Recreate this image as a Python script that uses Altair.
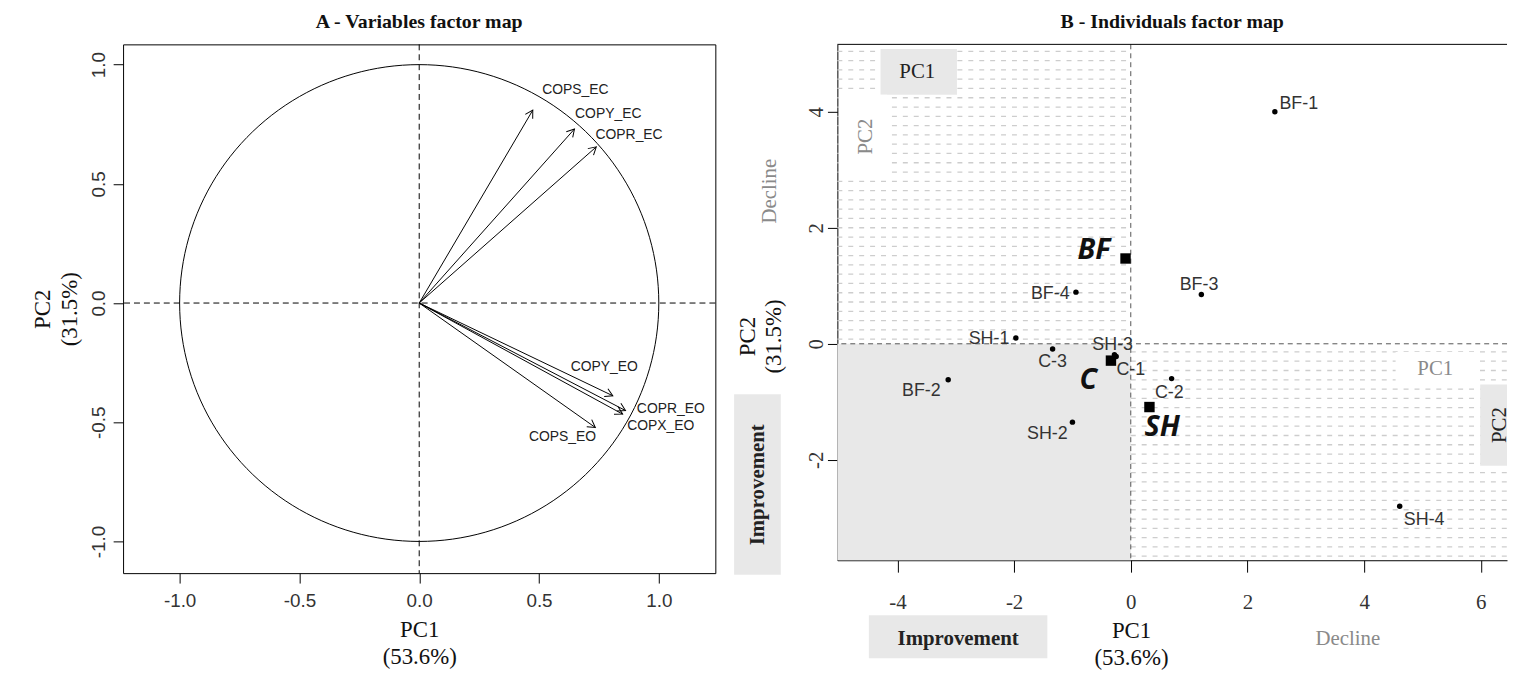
import altair as alt
import pandas as pd

SERIF = "Liberation Serif"
SANS = "Liberation Sans"
MINUS = "\u2212"

# ---------------- Panel A : variables ----------------
var_names = ["COPS_EC", "COPY_EC", "COPR_EC", "COPY_EO", "COPR_EO", "COPX_EO", "COPS_EO"]
var_pc1 = [0.474, 0.648, 0.739, 0.808, 0.861, 0.849, 0.735]
var_pc2 = [0.809, 0.730, 0.655, -0.389, -0.451, -0.466, -0.522]
var_lab_x = [0.652, 0.789, 0.876, 0.772, 1.050, 1.008, 0.598]
var_lab_y = [0.892, 0.792, 0.705, -0.268, -0.443, -0.518, -0.563]

A_X = [-1.236, 1.236]
A_Y = [-1.133, 1.085]
A_TICKS = [-1.0, -0.5, 0.0, 0.5, 1.0]

# ---------------- Panel B : individuals ----------------
ind_names = ["BF-1", "BF-2", "BF-3", "BF-4", "C-1", "C-2", "C-3", "SH-1", "SH-2", "SH-3", "SH-4"]
ind_pc1 = [2.47, -3.13, 1.21, -0.94, -0.25, 0.70, -1.34, -1.97, -1.00, -0.28, 4.61]
ind_pc2 = [4.00, -0.62, 0.85, 0.89, -0.22, -0.60, -0.09, 0.10, -1.35, -0.19, -2.80]
ind_lab_x = [2.88, -3.59, 1.17, -1.38, 0.00, 0.66, -1.34, -2.43, -1.43, -0.31, 5.03]
ind_lab_y = [4.14, -0.82, 1.01, 0.85, -0.46, -0.84, -0.31, 0.09, -1.56, -0.02, -3.04]

grp_names = ["BF", "C", "SH"]
grp_pc1 = [-0.09, -0.34, 0.32]
grp_pc2 = [1.47, -0.29, -1.09]
grp_lab_x = [-0.63, -0.73, 0.54]
grp_lab_y = [1.61, -0.62, -1.44]

B_X = [-5.03, 6.45]
B_Y = [-3.73, 5.16]
B_XTICKS = [-4, -2, 0, 2, 4, 6]
B_YTICKS = [-2, 0, 2, 4]

# annotation boxes (inside the plot): x1, x2, y1, y2, fill
box_x1 = [-4.29, -5.00, 4.54, 5.99]
box_x2 = [-2.98, -4.18, 5.90, 6.80]
box_y1 = [5.08, 4.29, -0.14, -0.70]
box_y2 = [4.29, 2.89, -0.75, -2.10]
box_fill = ["#e8e8e8", "#ffffff", "#ffffff", "#e8e8e8"]

# annotation boxes outside the plot
obox_x1 = [-6.80, -4.49]
obox_x2 = [-6.00, -1.43]
obox_y1 = [-0.87, -4.68]
obox_y2 = [-3.98, -5.42]

# annotation texts
ann_text = ["PC1", "PC2", "PC1", "PC2", "Decline", "Improvement", "Improvement", "Decline"]
ann_x = [-3.66, -4.54, 5.22, 6.33, -6.19, -6.39, -2.96, 3.72]
ann_y = [4.68, 3.57, -0.44, -1.40, 2.63, -2.43, -5.08, -5.08]
ann_rot = [0, 270, 0, 270, 270, 270, 0, 0]
ann_col = ["#222222", "#8a8a8a", "#8a8a8a", "#222222", "#8a8a8a", "#222222", "#222222", "#8a8a8a"]
ann_bold = ["normal", "normal", "normal", "normal", "normal", "bold", "bold", "normal"]
ann_inside = [True, True, True, True, False, False, False, False]

# ====================== Panel A ======================
axA_x = alt.Axis(values=A_TICKS,
                 labelExpr=f"replace(format(datum.value, '.1f'), '{MINUS}', '-')",
                 labelFont=SANS, labelFontSize=19, labelColor="#333333", labelFlush=False,
                 tickColor="#000000", tickSize=10, labelPadding=9, domain=False, grid=False,
                 title=["PC1", "(53.6%)"], titleFont=SERIF, titleFontSize=23,
                 titleFontWeight="normal", titleColor="#111111", titleLineHeight=27,
                 titleBaseline="top", titleY=46)
axA_y = alt.Axis(values=A_TICKS,
                 labelExpr=f"replace(format(datum.value, '.1f'), '{MINUS}', '-')",
                 labelFont=SANS, labelFontSize=19, labelColor="#333333", labelFlush=False,
                 labelAngle=270, labelAlign="center", labelBaseline="bottom", labelPadding=5,
                 tickColor="#000000", tickSize=10, domain=False, grid=False,
                 title=["PC2", "(31.5%)"], titleFont=SERIF, titleFontSize=23,
                 titleFontWeight="normal", titleColor="#111111", titleLineHeight=27,
                 titlePadding=8)

scA_x = alt.Scale(domain=A_X, nice=False, zero=False)
scA_y = alt.Scale(domain=A_Y, nice=False, zero=False)


def ax_a(f):
    return alt.X(f, type="quantitative", scale=scA_x, axis=axA_x)


def ay_a(f):
    return alt.Y(f, type="quantitative", scale=scA_y, axis=axA_y)


var_df = pd.DataFrame({"name": var_names, "pc1": var_pc1, "pc2": var_pc2,
                       "lx": var_lab_x, "ly": var_lab_y})

circle = alt.Chart(alt.sequence(0, 362, 2, as_="t")).transform_calculate(
    cx="cos(datum.t*PI/180)", cy="sin(datum.t*PI/180)"
).mark_line(color="black", strokeWidth=1).encode(
    x=ax_a("cx"), y=ay_a("cy"), order="t:Q")

zero_df = pd.DataFrame({"z": [0.0]})
vline_a = alt.Chart(zero_df).mark_rule(color="black", strokeDash=[6, 4], strokeWidth=1).encode(x=ax_a("z"))
hline_a = alt.Chart(zero_df).mark_rule(color="black", strokeDash=[6, 4], strokeWidth=1).encode(y=ay_a("z"))

shafts = alt.Chart(var_df).transform_calculate(x0="0", y0="0").mark_rule(
    color="black", strokeWidth=1).encode(
    x=ax_a("x0"), y=ay_a("y0"), x2="pc1:Q", y2="pc2:Q")

heads = alt.Chart(var_df).transform_calculate(
    ang="(atan2(datum.pc1, datum.pc2)*180/PI + 360) % 360"
).mark_point(shape="M -0.5 0.87 L 0 0 L 0.5 0.87", filled=False, size=300,
             color="black", strokeWidth=1, opacity=1).encode(
    x=ax_a("pc1"), y=ay_a("pc2"), angle=alt.Angle("ang:Q", scale=None))

var_labels = alt.Chart(var_df).mark_text(font=SANS, fontSize=14, color="#222222").encode(
    x=ax_a("lx"), y=ay_a("ly"), text="name:N")

panelA = alt.layer(circle, vline_a, hline_a, shafts, heads, var_labels).properties(
    width=597, height=533,
    title=alt.TitleParams("A - Variables factor map", font=SERIF, fontSize=20,
                          fontWeight="bold", color="#111111", offset=12, anchor="middle"),
    view=alt.ViewBackground(stroke="#000000", strokeWidth=1))

# ====================== Panel B ======================
axB_x = alt.Axis(values=B_XTICKS, labelExpr="'' + datum.value",
                 labelFont=SERIF, labelFontSize=21, labelColor="#333333", labelFlush=False,
                 tickColor="#000000", tickSize=12, labelPadding=20,
                 domain=True, domainColor="#000000", domainWidth=1, grid=False,
                 title=["PC1", "(53.6%)"], titleFont=SERIF, titleFontSize=23,
                 titleFontWeight="normal", titleColor="#111111", titleLineHeight=27,
                 titleBaseline="top", titleX=296, titleY=60)
axB_y = alt.Axis(values=B_YTICKS, labelExpr="'' + datum.value",
                 labelFont=SERIF, labelFontSize=21, labelColor="#333333", labelFlush=False,
                 labelAngle=270, labelAlign="center", labelBaseline="bottom", labelPadding=1,
                 tickColor="#000000", tickSize=10,
                 domain=True, domainColor="#000000", domainWidth=1, grid=False,
                 title=["PC2", "(31.5%)"], titleFont=SERIF, titleFontSize=23,
                 titleFontWeight="normal", titleColor="#111111", titleLineHeight=27,
                 titlePadding=20, titleY=294)

scB_x = alt.Scale(domain=B_X, nice=False, zero=False)
scB_y = alt.Scale(domain=B_Y, nice=False, zero=False)


def ax_b(f):
    return alt.X(f, type="quantitative", scale=scB_x, axis=axB_x)


def ay_b(f):
    return alt.Y(f, type="quantitative", scale=scB_y, axis=axB_y)


quad_df = pd.DataFrame({"x1": [B_X[0]], "x2": [0.0], "y1": [B_Y[0]], "y2": [0.0]})
quad = alt.Chart(quad_df).mark_rect(color="#e8e8e8").encode(
    x=ax_b("x1"), x2="x2:Q", y=ay_b("y1"), y2="y2:Q")

DASH_COL = "#cdcdcd"
dash_ul = alt.Chart(alt.sequence(0.08, 5.16, 0.16, as_="ry")).transform_calculate(
    xa=str(B_X[0]), xb="0").mark_rule(color=DASH_COL, strokeWidth=1.3, strokeDash=[5, 6]).encode(
    x=ax_b("xa"), x2="xb:Q", y=ay_b("ry"))
dash_lr = alt.Chart(alt.sequence(-3.66, 0.0, 0.16, as_="ry")).transform_calculate(
    xa="0", xb=str(B_X[1])).mark_rule(color=DASH_COL, strokeWidth=1.3, strokeDash=[5, 6]).encode(
    x=ax_b("xa"), x2="xb:Q", y=ay_b("ry"))

box_df = pd.DataFrame({"x1": box_x1, "x2": box_x2, "y1": box_y1, "y2": box_y2, "fill": box_fill})
boxes = alt.Chart(box_df).mark_rect(clip=True).encode(
    x=ax_b("x1"), x2="x2:Q", y=ay_b("y1"), y2="y2:Q",
    color=alt.Color("fill:N", scale=None))

obox_df = pd.DataFrame({"x1": obox_x1, "x2": obox_x2, "y1": obox_y1, "y2": obox_y2})
oboxes = alt.Chart(obox_df).mark_rect(color="#e8e8e8").encode(
    x=ax_b("x1"), x2="x2:Q", y=ay_b("y1"), y2="y2:Q")

vline_b = alt.Chart(zero_df).mark_rule(color="#555555", strokeDash=[5, 4], strokeWidth=1).encode(x=ax_b("z"))
hline_b = alt.Chart(zero_df).mark_rule(color="#555555", strokeDash=[5, 4], strokeWidth=1).encode(y=ay_b("z"))

top_df = pd.DataFrame({"t": [B_Y[1]]})
top_rule = alt.Chart(top_df).mark_rule(color="black", strokeWidth=1).encode(y=ay_b("t"))

ind_df = pd.DataFrame({"name": ind_names, "pc1": ind_pc1, "pc2": ind_pc2,
                       "lx": ind_lab_x, "ly": ind_lab_y})
grp_df = pd.DataFrame({"name": grp_names, "pc1": grp_pc1, "pc2": grp_pc2,
                       "lx": grp_lab_x, "ly": grp_lab_y})

ind_pts = alt.Chart(ind_df).mark_circle(size=30, color="black", opacity=1).encode(
    x=ax_b("pc1"), y=ay_b("pc2"))
ind_txt = alt.Chart(ind_df).mark_text(font=SANS, fontSize=18, color="#333333").encode(
    x=ax_b("lx"), y=ay_b("ly"), text="name:N")
grp_pts = alt.Chart(grp_df).mark_square(size=110, color="black", opacity=1).encode(
    x=ax_b("pc1"), y=ay_b("pc2"))
grp_txt = alt.Chart(grp_df).mark_text(font="Open Sans", fontSize=29, fontWeight="bold",
                                      fontStyle="italic", color="#111111").encode(
    x=ax_b("lx"), y=ay_b("ly"), text="name:N")

ann_df = pd.DataFrame({"text": ann_text, "x": ann_x, "y": ann_y, "rot": ann_rot,
                       "col": ann_col, "w": ann_bold, "inside": ann_inside})


def ann_layer(inside, rot, bold):
    d = ann_df[(ann_df.inside == inside) & (ann_df.rot == rot) & (ann_df.w == bold)]
    return alt.Chart(d).mark_text(font=SERIF, fontSize=21, angle=rot, clip=inside,
                                  fontWeight=bold).encode(
        x=ax_b("x"), y=ay_b("y"), text="text:N", color=alt.Color("col:N", scale=None))


ann_layers = [ann_layer(i, r, b) for i in (True, False) for r in (0, 270) for b in ("normal", "bold")
              if len(ann_df[(ann_df.inside == i) & (ann_df.rot == r) & (ann_df.w == b)]) > 0]

panelB = alt.layer(quad, dash_ul, dash_lr, boxes, oboxes, vline_b, hline_b, top_rule,
                   ind_pts, grp_pts, ind_txt, grp_txt, *ann_layers).properties(
    width=675, height=520,
    title=alt.TitleParams("B - Individuals factor map", font=SERIF, fontSize=20,
                          fontWeight="bold", color="#111111", offset=12, anchor="middle"),
    view=alt.ViewBackground(stroke="transparent"))

chart = alt.hconcat(panelA, panelB, spacing=123, bounds="flush").configure_view(
    stroke="transparent").properties(padding={"left": 23, "top": 1, "right": 0, "bottom": 0})

chart.save("out.html", embed_options={"renderer": "svg", "actions": False})
